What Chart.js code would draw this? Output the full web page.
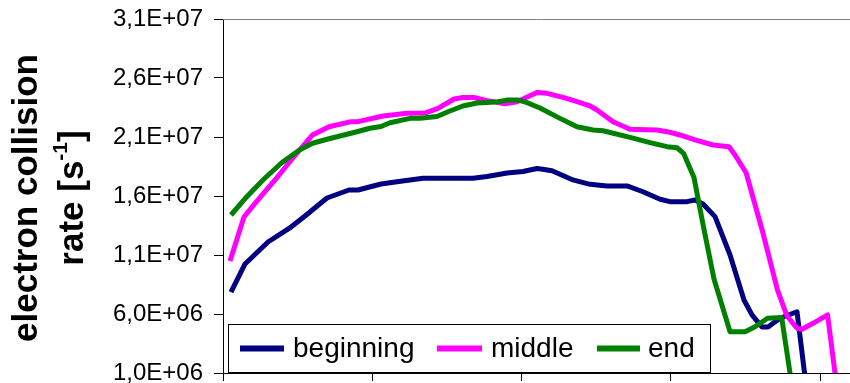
<!DOCTYPE html>
<html lang="en">

<head>
    <meta charset="UTF-8">
    <title>Electron collision rate</title>
    <script src="https://cdn.jsdelivr.net/npm/chart.js"></script>
</head>
<style>
    body {
        margin: 0;
        background-color: white;
    }

    .chart-container {
        width: 850px;
        height: 383px;
        position: relative;
    }
</style>

<body>
    <div class="chart-container">
        <canvas id="myChart"></canvas>
    </div>

<script>
    // data (x = sample position, y in units of 1E+06 s^-1)
    const seriesNames = ['beginning', 'middle', 'end'];

    const beginX = [1.07, 2.95, 6.03, 9.11, 10.99, 13.93, 16.88, 18.09, 21.17, 23.31, 25.05, 26.80, 33.49, 35.37, 38.05, 40.19, 42.07, 42.6, 44.08, 46.89, 49.17, 51.45, 54.13, 56.27, 58.55, 59.89, 62.17, 63.24, 64.31, 65.92, 67.93, 69.8, 70.87, 72.21, 73.02, 74.62, 76.9, 78.1];
    const beginY = [7.86, 10.24, 12.10, 13.37, 14.31, 15.83, 16.51, 16.51, 17.02, 17.21, 17.36, 17.50, 17.50, 17.65, 17.95, 18.08, 18.33, 18.29, 18.14, 17.36, 16.99, 16.85, 16.85, 16.36, 15.72, 15.52, 15.52, 15.66, 15.32, 14.25, 11.0, 7.19, 5.92, 4.90, 4.90, 5.64, 6.19, 0];

    const middleX = [0.94, 2.81, 4.29, 6.97, 9.31, 11.99, 14.2, 17.15, 18.09, 21.44, 24.65, 27.06, 28.8, 30.95, 32.15, 33.63, 35.37, 37.78, 39.39, 42.07, 43.41, 45.55, 47.43, 49.17, 50.11, 52.25, 54.53, 58.15, 59.49, 61.23, 63.24, 65.65, 67.79, 68.6, 70.07, 72.35, 74.29, 75.56, 76.9, 77.57, 79.05, 81.0, 82.19];
    const middleY = [10.49, 14.22, 15.38, 17.36, 19.19, 21.17, 21.87, 22.30, 22.30, 22.78, 23.01, 23.03, 23.43, 24.22, 24.35, 24.35, 24.08, 23.82, 23.99, 24.77, 24.70, 24.36, 23.99, 23.63, 23.29, 22.30, 21.65, 21.59, 21.45, 21.17, 20.75, 20.32, 20.18, 19.47, 17.99, 12.84, 8.03, 5.83, 4.79, 4.71, 5.21, 5.92, 0];

    const endX = [1.07, 3.22, 5.49, 7.9, 10.25, 11.99, 14.2, 17.55, 19.69, 21.17, 22.37, 25.05, 26.39, 28.67, 30.14, 32.15, 34.03, 35.37, 36.84, 38.18, 39.52, 40.73, 42.47, 45.15, 47.43, 49.57, 50.91, 54.53, 57.21, 59.49, 60.83, 61.7, 63.1, 64.37, 65.78, 67.93, 69.94, 71.28, 72.95, 74.85, 76.2];
    const endY = [14.39, 15.96, 17.44, 18.84, 19.90, 20.47, 20.85, 21.38, 21.74, 21.89, 22.21, 22.58, 22.58, 22.74, 23.14, 23.63, 23.88, 23.92, 23.99, 24.14, 24.14, 23.91, 23.46, 22.58, 21.87, 21.59, 21.53, 20.97, 20.52, 20.18, 20.09, 19.62, 17.57, 13.40, 8.97, 4.50, 4.50, 4.92, 5.64, 5.70, 0];

    // axis ticks
    const yTickValues = [1e6, 6e6, 1.1e7, 1.6e7, 2.1e7, 2.6e7, 3.1e7];
    const xTickValues = [0, 20, 40, 60, 80];

    const colors = ['#000080', '#FF00FF', '#008000'];
    const font = "'Liberation Sans', Arial, sans-serif";

    function toPoints(xs, ys) {
        return xs.map((x, i) => ({ x: x, y: ys[i] * 1e6 }));
    }

    // 3,1E+07 style labels
    function excelSci(v) {
        const parts = v.toExponential(1).split('e');
        const exp = parseInt(parts[1], 10);
        const sign = exp < 0 ? '-' : '+';
        const digits = String(Math.abs(exp)).padStart(2, '0');
        return parts[0].replace('.', ',') + 'E' + sign + digits;
    }

    // no extra padding around the axes, the plot area is placed by layout.padding
    function noPad(scale) {
        scale.paddingTop = 0;
        scale.paddingBottom = 0;
        scale.paddingLeft = 0;
        scale.paddingRight = 0;
    }

    // plot frame, legend box and the rotated axis title
    const extras = {
        id: 'extras',
        beforeDatasetsDraw(chart) {
            const { ctx, chartArea } = chart;
            ctx.save();
            ctx.strokeStyle = '#808080';
            ctx.lineWidth = 1;
            ctx.beginPath();
            ctx.moveTo(chartArea.left, chartArea.top + 0.5);
            ctx.lineTo(chartArea.right, chartArea.top + 0.5);
            ctx.stroke();
            ctx.restore();
        },
        afterDatasetsDraw(chart) {
            const ctx = chart.ctx;
            ctx.save();
            // legend box
            ctx.fillStyle = 'white';
            ctx.fillRect(228, 324, 482, 48);
            ctx.strokeStyle = '#000';
            ctx.lineWidth = 1;
            ctx.strokeRect(228.5, 324.5, 482, 48);

            const items = [
                { x1: 240, x2: 284, tx: 293 },
                { x1: 437, x2: 482, tx: 491 },
                { x1: 597, x2: 640, tx: 648 }
            ];
            ctx.font = '28px ' + font;
            ctx.textBaseline = 'alphabetic';
            ctx.textAlign = 'left';
            items.forEach((it, i) => {
                ctx.strokeStyle = colors[i];
                ctx.lineWidth = 6;
                ctx.beginPath();
                ctx.moveTo(it.x1, 348.5);
                ctx.lineTo(it.x2, 348.5);
                ctx.stroke();
                ctx.fillStyle = '#000';
                ctx.fillText(seriesNames[i], it.tx, 357);
            });
            ctx.restore();
        },
        afterDraw(chart) {
            const ctx = chart.ctx;
            const cy = 198;
            ctx.save();
            ctx.fillStyle = '#000';
            ctx.textBaseline = 'alphabetic';

            // first line
            ctx.save();
            ctx.translate(37, cy);
            ctx.rotate(-Math.PI / 2);
            ctx.font = 'bold 35px ' + font;
            ctx.textAlign = 'center';
            ctx.fillText('electron collision', 0, 0);
            ctx.restore();

            // second line with superscript
            ctx.save();
            ctx.translate(83, cy);
            ctx.rotate(-Math.PI / 2);
            ctx.textAlign = 'left';
            const bigFont = 'bold 35px ' + font;
            const smallFont = 'bold 21px ' + font;
            ctx.font = bigFont;
            const w1 = ctx.measureText('rate [s').width;
            const w3 = ctx.measureText(']').width;
            ctx.font = smallFont;
            const w2 = ctx.measureText('-1').width;
            let x = -(w1 + w2 + w3) / 2;
            ctx.font = bigFont;
            ctx.fillText('rate [s', x, 0);
            x += w1;
            ctx.font = smallFont;
            ctx.fillText('-1', x, -16);
            x += w2;
            ctx.font = bigFont;
            ctx.fillText(']', x, 0);
            ctx.restore();

            ctx.restore();
        }
    };

    const ctx = document.getElementById('myChart');
    let myChart = new Chart(ctx, {
        type: 'line',
        data: {
            datasets: [
                { label: seriesNames[0], data: toPoints(beginX, beginY), borderColor: colors[0], order: 2 },
                { label: seriesNames[1], data: toPoints(middleX, middleY), borderColor: colors[1], order: 1 },
                { label: seriesNames[2], data: toPoints(endX, endY), borderColor: colors[2], order: 0 }
            ]
        },
        options: {
            responsive: true,
            maintainAspectRatio: false,
            animation: false,
            layout: {
                padding: { top: 19, right: 0, bottom: 0, left: 0 }
            },
            elements: {
                line: { borderWidth: 5, tension: 0, borderJoinStyle: 'round', fill: false },
                point: { radius: 0, hoverRadius: 0 }
            },
            datasets: {
                line: { clip: 0 }
            },
            scales: {
                x: {
                    type: 'linear',
                    min: 0,
                    max: 84,
                    afterBuildTicks: (scale) => {
                        scale.ticks = xTickValues.map(v => ({ value: v }));
                    },
                    afterFit: (scale) => { scale.height = 10; noPad(scale); },
                    ticks: { display: false },
                    grid: { drawOnChartArea: false, tickLength: 8, color: '#000', tickWidth: 1 },
                    border: { color: '#000', width: 1 }
                },
                y: {
                    min: 1e6,
                    max: 3.1e7,
                    afterBuildTicks: (scale) => {
                        scale.ticks = yTickValues.map(v => ({ value: v }));
                    },
                    afterFit: (scale) => { scale.width = 223; noPad(scale); },
                    ticks: {
                        callback: (v) => excelSci(v),
                        color: '#000',
                        padding: 11,
                        font: { family: font, size: 24 }
                    },
                    grid: { drawOnChartArea: false, tickLength: 9, color: '#000', tickWidth: 1 },
                    border: { color: '#000', width: 1 }
                }
            },
            plugins: {
                legend: { display: false },
                tooltip: { enabled: false }
            }
        },
        plugins: [extras]
    });
</script>

</body>

</html>
